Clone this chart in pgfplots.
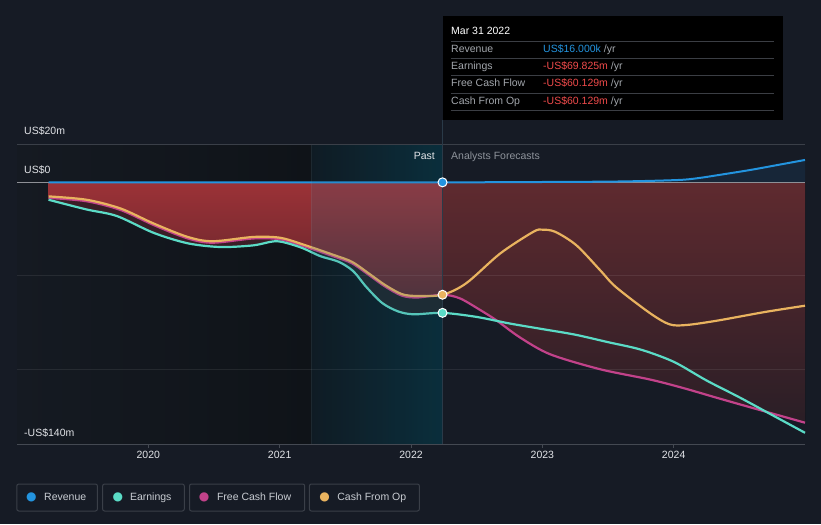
\documentclass[border=0pt]{standalone}
\usepackage{pgfplots}
\usepackage{pgfplotstable}
\pgfplotsset{compat=1.18}
\usepgfplotslibrary{fillbetween}
\usepackage{fontspec}
\setmainfont{Liberation Sans}
\newfontfamily\dejavu{DejaVu Sans}
\definecolor{bg}{HTML}{161B25}
\definecolor{pastbgL}{HTML}{151A22}
\definecolor{pastbgR}{HTML}{0F1318}
\definecolor{shadeL}{HTML}{060C10}
\definecolor{shadeR}{HTML}{00232D}
\definecolor{ovl}{HTML}{3C6482}
\definecolor{redTop}{HTML}{9C3237}
\definecolor{redBot}{HTML}{7A2A30}
\definecolor{redTwoTop}{HTML}{9B3439}
\definecolor{redTwoBot}{HTML}{55292F}
\definecolor{maroon}{HTML}{3A1E26}
\definecolor{tealTwo}{HTML}{172025}
\definecolor{fcTop}{HTML}{5F2A2F}
\definecolor{fcBot}{HTML}{2A1E26}
\definecolor{revfill}{HTML}{172638}
\definecolor{revc}{HTML}{2394DF}
\definecolor{earnc}{HTML}{5BDBC6}
\definecolor{fcfc}{HTML}{C2428A}
\definecolor{cfoc}{HTML}{E9B35F}
\definecolor{zeroc}{HTML}{8E9096}
\definecolor{gridc}{HTML}{3A3F48}
\definecolor{axisc}{HTML}{444952}
\definecolor{txt}{HTML}{E2E4E8}
\definecolor{subtxt}{HTML}{8E939B}
\definecolor{ttlab}{HTML}{A3A7AD}
\definecolor{neg}{HTML}{F04B4B}
\definecolor{sep}{HTML}{3B3E44}
\definecolor{vline}{HTML}{2A3A48}
\definecolor{legbox}{HTML}{3A3F48}
\definecolor{legtxt}{HTML}{C9CDD3}

\pgfplotstableread{
x y
2019.24 -8.3
2019.53 -10.1
2019.79 -14.8
2020.04 -22.8
2020.30 -30.0
2020.49 -32.3
2020.80 -30.0
2021.0 -30.4
2021.16 -33.6
2021.41 -39.6
2021.55 -43.3
2021.68 -49.6
2021.80 -55.6
2021.93 -60.6
2022.05 -61.6
2022.24 -60.129
2022.37 -62
2022.52 -68
2022.65 -73.8
2022.83 -83
2023.06 -92
2023.44 -100
2023.82 -105.5
2024.07 -110
2024.33 -115.3
2024.58 -120.3
2025.0 -128.6
}\fcftab

\pgfplotstableread{
x y
2019.24 -9.3
2019.53 -14.5
2019.76 -18
2020.04 -27
2020.30 -32.6
2020.55 -34.6
2020.80 -33.7
2020.98 -31.5
2021.16 -34.8
2021.31 -39.5
2021.45 -42.5
2021.56 -47.5
2021.66 -56
2021.78 -64.5
2021.90 -69
2022.02 -70.6
2022.24 -69.825
2022.5 -72
2022.75 -75.5
2023.0 -78.5
2023.25 -81.5
2023.5 -85.5
2023.75 -89.5
2024.0 -96
2024.25 -106
2024.5 -115
2024.75 -124.5
2025.0 -134
}\earntab

\pgfplotstableread{
x y
2019.24 -7.5
2019.53 -9.3
2019.79 -14
2020.04 -22
2020.30 -29.2
2020.49 -31.5
2020.80 -29.2
2021.0 -29.6
2021.16 -32.8
2021.41 -38.8
2021.55 -42.5
2021.68 -48.8
2021.80 -54.8
2021.93 -59.8
2022.05 -60.8
2022.24 -60.129
2022.42 -54
2022.68 -38
2022.93 -26.5
2023.0 -25.3
2023.1 -26.5
2023.26 -33.7
2023.44 -47
2023.56 -56
2023.82 -70
2023.97 -76
2024.1 -76.3
2024.33 -74
2024.7 -69.3
2025.0 -66
}\cfotab

\pgfplotstableread{
x y
2019.24 0.016
2020.5 0.016
2022.24 0.016
2023.0 0.2
2023.5 0.4
2023.82 0.8
2024.07 1.4
2024.2 2.4
2024.33 3.8
2024.58 6.6
2024.83 9.8
2025.0 12
}\revtab

\begin{document}
\begin{tikzpicture}[x=1pt,y=1pt,font=\fontsize{10.5}{12}\selectfont]
\begin{axis}[
  set layers, axis on top, clip=false,
  at={(17pt,80pt)}, anchor=south west,
  width=788pt, height=299pt, scale only axis,
  xmin=2019, xmax=2025, ymin=-140, ymax=20,
  axis x line*=bottom, axis y line=none,
  x axis line style={draw=axisc, line width=1pt, -},
  xtick={2020,2021,2022,2023,2024},
  xticklabels={2020,2021,2022,2023,2024},
  xtick align=outside, major tick length=4pt,
  xtick style={draw=axisc, line width=1pt},
  ytick=\empty,
  xticklabel style={text=txt, font=\fontsize{10.5}{12}\selectfont},
]
\begin{pgfonlayer}{axis background}
\fill[bg] (axis cs:2018.87056,-182.809) rectangle (axis cs:2025.12183,97.592);
\fill[left color=pastbgL, right color=pastbgR] (axis cs:2019,-140) rectangle (axis cs:2021.24,20);
\fill[left color=shadeL, right color=shadeR] (axis cs:2021.24,-140) rectangle (axis cs:2022.24,20);
\end{pgfonlayer}

% named paths
\addplot[draw=none, name path=zero, forget plot] coordinates {(2019.24,0) (2025,0)};
\addplot[draw=none, smooth, name path=fcf, forget plot] table {\fcftab};
\addplot[draw=none, smooth, name path=earn, forget plot] table {\earntab};
\addplot[draw=none, smooth, name path=cfo, forget plot] table {\cfotab};
\addplot[draw=none, smooth, name path=rev, forget plot] table {\revtab};

% area fills (pre main layer)
\addplot[top color=redTop, bottom color=redBot, draw=none] fill between[of=zero and cfo, soft clip={domain=2018.9:2021.24}];
\addplot[fill=maroon, draw=none] fill between[of=cfo and earn, soft clip={domain=2018.9:2021.24}];
\addplot[top color=redTwoTop, bottom color=redTwoBot, draw=none] fill between[of=zero and cfo, soft clip={domain=2021.24:2022.24}];
\addplot[fill=tealTwo, draw=none] fill between[of=cfo and earn, soft clip={domain=2021.24:2022.24}];
\addplot[top color=fcTop, bottom color=fcBot, draw=none] fill between[of=zero and fcf, soft clip={domain=2022.24:2025.1}];
\addplot[fill=revfill, draw=none] fill between[of=zero and rev, soft clip={domain=2022.24:2025.1}];

% grid lines
\draw[gridc, line width=1pt] (axis cs:2019,20) -- (axis cs:2025,20);
\draw[white, opacity=0.08, line width=1pt] (axis cs:2019,-50) -- (axis cs:2025,-50);
\draw[white, opacity=0.08, line width=1pt] (axis cs:2019,-100) -- (axis cs:2025,-100);
\draw[zeroc, line width=1.5pt] (axis cs:2019,0) -- (axis cs:2025,0);

% visible lines
\addplot[fcfc, line width=2.2pt, smooth] table {\fcftab};
\addplot[earnc, line width=2.2pt, smooth] table {\earntab};
\addplot[cfoc, line width=2.2pt, smooth] table {\cfotab};
\addplot[revc, line width=2pt, smooth] table {\revtab};

% past shading overlay
\fill[ovl, opacity=0.18] (axis cs:2021.24,-140) rectangle (axis cs:2022.24,20);
\draw[white, opacity=0.06, line width=1pt] (axis cs:2021.24,-140) -- (axis cs:2021.24,20);
\draw[vline, line width=1pt] (axis cs:2022.24,-140) -- (axis cs:2022.24,20);

% current points
\addplot[only marks, mark=*, mark size=4.5pt, mark options={fill=cfoc, draw=white, line width=1pt}] coordinates {(2022.24,-60.129)};
\addplot[only marks, mark=*, mark size=4.5pt, mark options={fill=earnc, draw=white, line width=1pt}] coordinates {(2022.24,-69.825)};
\addplot[only marks, mark=*, mark size=4.5pt, mark options={fill=revc, draw=white, line width=1pt}] coordinates {(2022.24,0.016)};
\end{axis}

% vertical marker above the plot
\draw[vline, line width=1pt] (442.5,379) -- (442.5,404);

% y labels
\node[anchor=base west, inner sep=0, text=txt] at (24,389.2) {US\$20m};
\node[anchor=base west, inner sep=0, text=txt] at (24,350.2) {US\$0};
\node[anchor=base west, inner sep=0, text=txt] at (24,88) {-US\$140m};

% past / forecast labels
\node[anchor=base east, inner sep=0, text=txt] at (435,364) {Past};
\node[anchor=base west, inner sep=0, text=subtxt] at (451,364) {Analysts Forecasts};

% tooltip
\fill[black] (443,404) rectangle (783,508);
\node[anchor=base west, inner sep=0, text=white] at (451,489) {Mar 31 2022};
\foreach \yy in {482.3,465.7,448,430.7,413} {\draw[sep, line width=1pt] (451,\yy) -- (774,\yy);}
\node[anchor=base west, inner sep=0, text=ttlab] at (451,471) {Revenue};
\node[anchor=base west, inner sep=0, text=ttlab] at (451,454.2) {Earnings};
\node[anchor=base west, inner sep=0, text=ttlab] at (451,437) {Free Cash Flow};
\node[anchor=base west, inner sep=0, text=ttlab] at (451,419.2) {Cash From Op};
\node[anchor=base west, inner sep=0] at (543,471) {\textcolor{revc}{US\$16.000k} \textcolor{ttlab}{/yr}};
\node[anchor=base west, inner sep=0] at (543,454.2) {\textcolor{neg}{-US\$69.825m} \textcolor{ttlab}{/yr}};
\node[anchor=base west, inner sep=0] at (543,437) {\textcolor{neg}{-US\$60.129m} \textcolor{ttlab}{/yr}};
\node[anchor=base west, inner sep=0] at (543,419.2) {\textcolor{neg}{-US\$60.129m} \textcolor{ttlab}{/yr}};

% legend
\draw[legbox, line width=1pt, rounded corners=2pt] (16.8,13) rectangle (97.4,40);
\draw[legbox, line width=1pt, rounded corners=2pt] (102.6,13) rectangle (184.3,40);
\draw[legbox, line width=1pt, rounded corners=2pt] (189.5,13) rectangle (304.7,40);
\draw[legbox, line width=1pt, rounded corners=2pt] (309.4,13) rectangle (419.4,40);
\node[inner sep=0, text=revc, font=\dejavu\fontsize{12}{12}\selectfont] at (31.4,27) {●};
\node[inner sep=0, text=earnc, font=\dejavu\fontsize{12}{12}\selectfont] at (117.8,27) {●};
\node[inner sep=0, text=fcfc, font=\dejavu\fontsize{12}{12}\selectfont] at (204,27) {●};
\node[inner sep=0, text=cfoc, font=\dejavu\fontsize{12}{12}\selectfont] at (324.6,27) {●};
\node[anchor=base west, inner sep=0, text=legtxt] at (44,23.2) {Revenue};
\node[anchor=base west, inner sep=0, text=legtxt] at (129.8,23.2) {Earnings};
\node[anchor=base west, inner sep=0, text=legtxt] at (216.8,23.2) {Free Cash Flow};
\node[anchor=base west, inner sep=0, text=legtxt] at (337.2,23.2) {Cash From Op};
\end{tikzpicture}
\end{document}
